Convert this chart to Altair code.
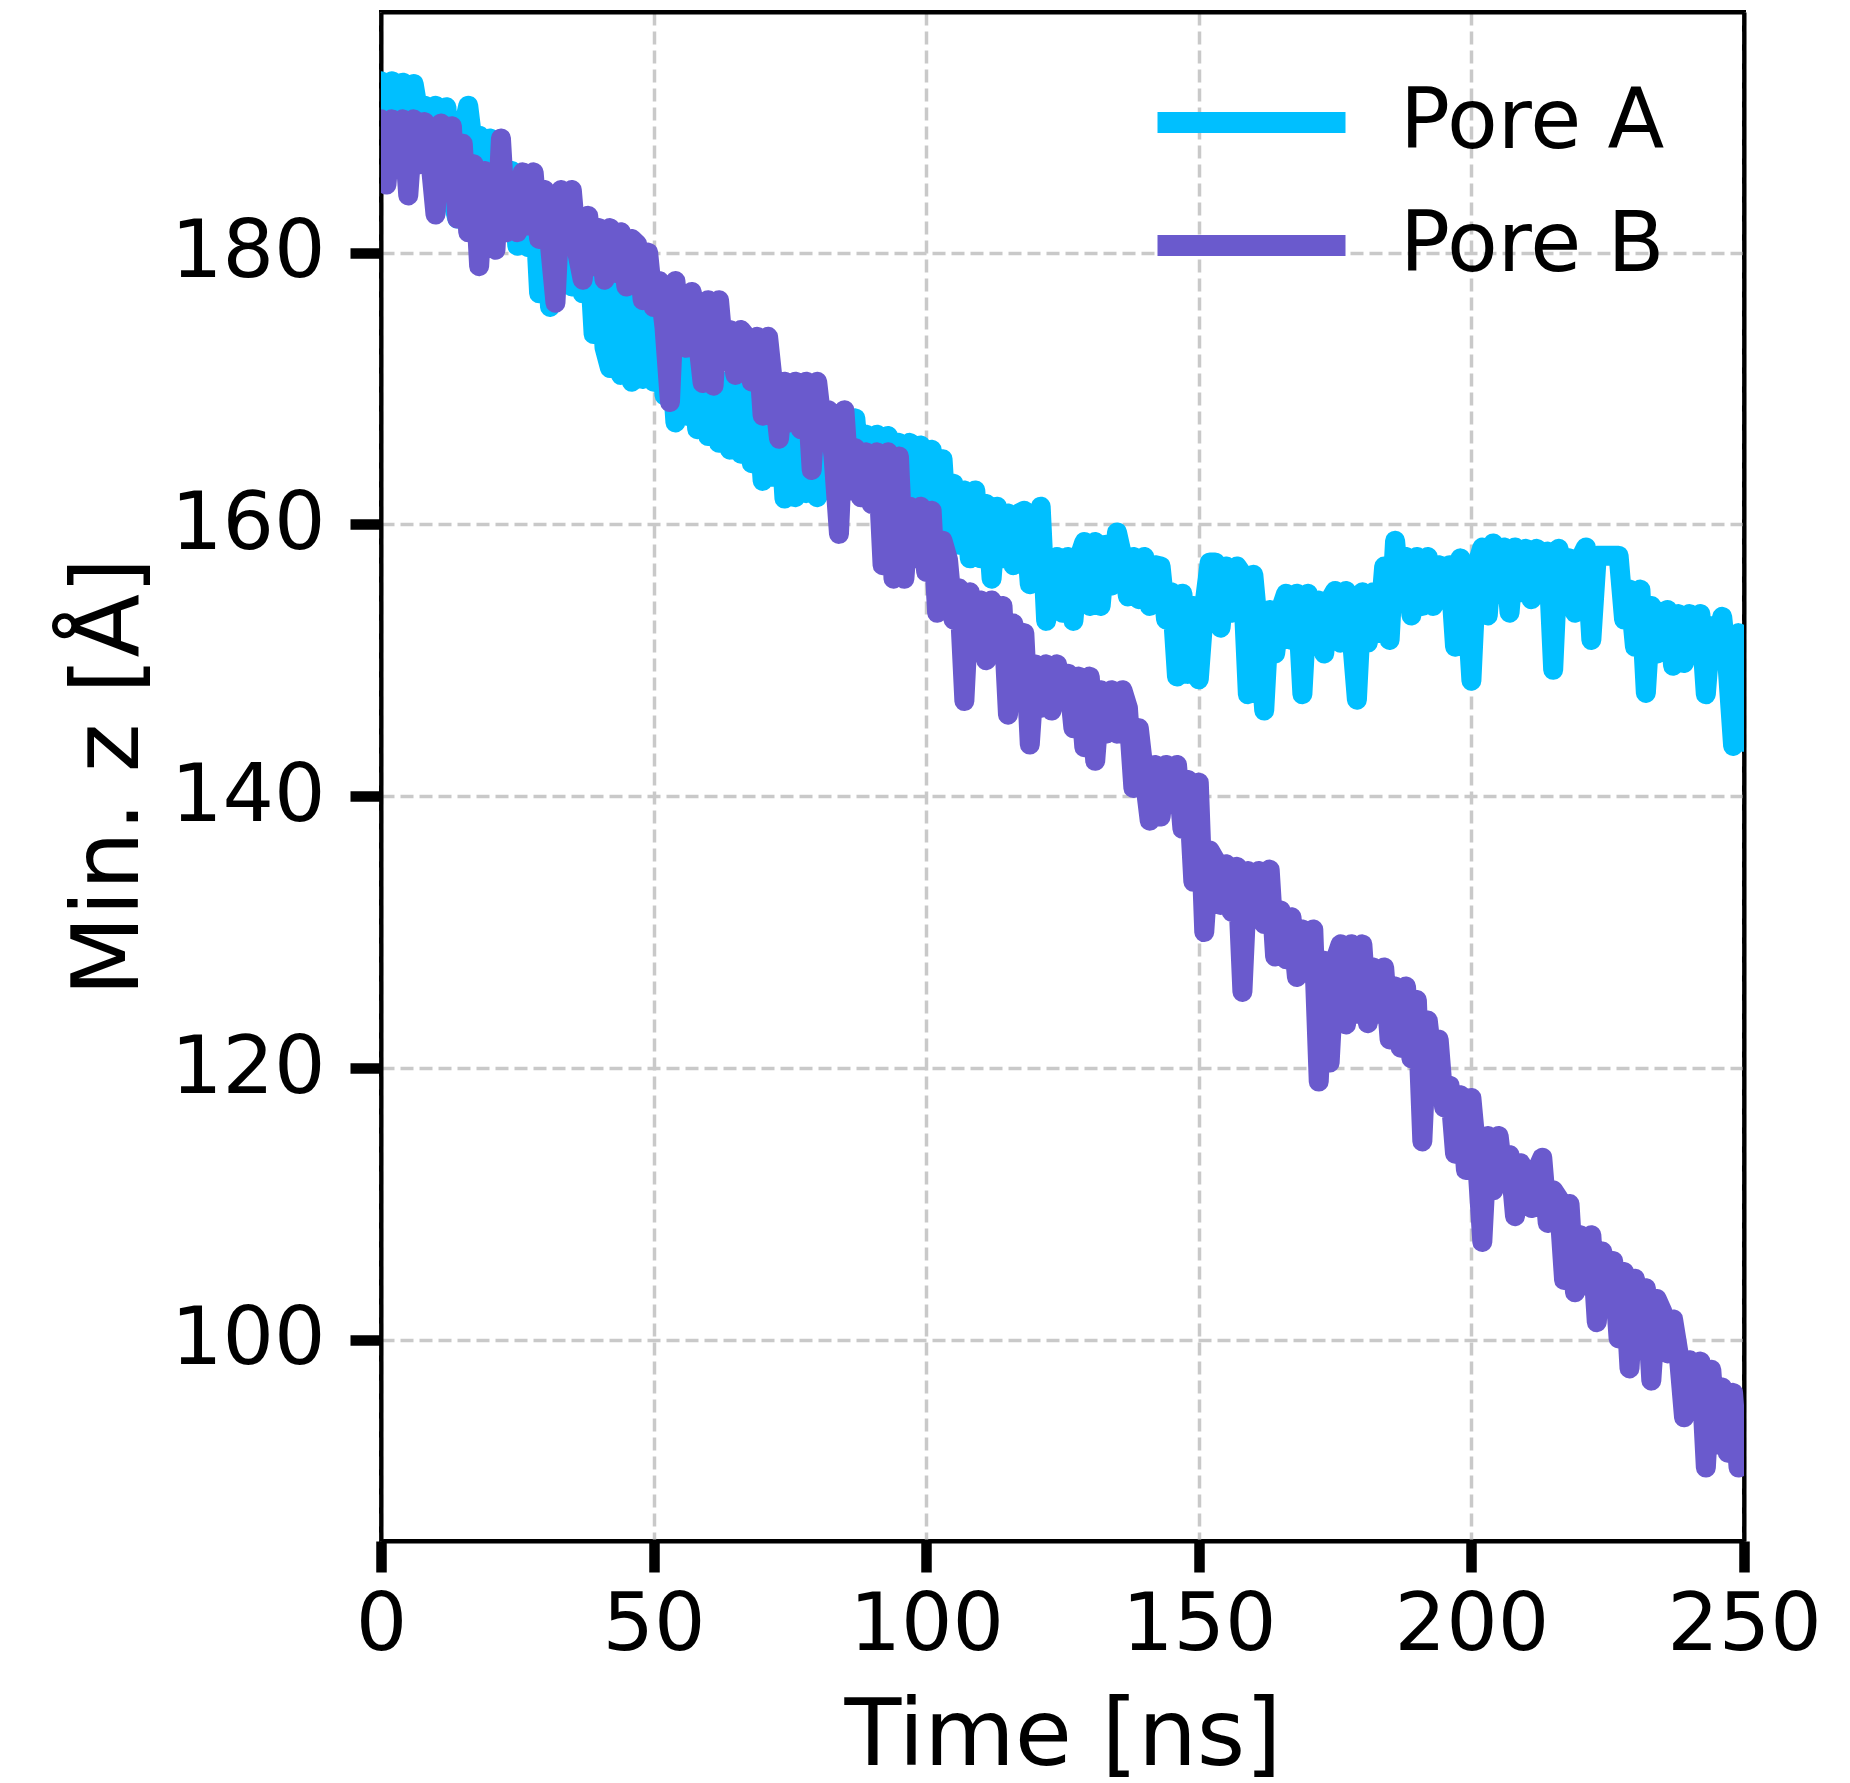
import altair as alt
import pandas as pd

TIME_NS = list(range(0, 251))

PORE_A = [
    192.6, 190.5, 192.6, 190.0, 192.5, 190.5, 192.4, 190.0, 190.8, 188.5,
    190.8, 188.0, 190.7, 184.0, 182.5, 189.0, 190.8, 187.5, 188.6, 184.5,
    188.4, 184.0, 186.5, 182.0, 186.0, 180.5, 185.5, 180.4, 184.8, 177.0,
    183.5, 176.0, 183.0, 178.5, 183.5, 177.5, 182.5, 177.0, 181.0, 174.0,
    179.5, 173.0, 171.5, 177.5, 171.0, 177.0, 170.5, 176.5, 170.7, 176.0,
    170.5, 174.5, 169.5, 173.5, 167.5, 172.5, 168.0, 172.0, 167.0, 171.5,
    166.5, 171.0, 166.0, 170.5, 165.5, 170.0, 165.2, 169.5, 164.5, 169.0,
    163.2, 168.5, 163.5, 168.5, 161.9, 168.0, 162.0, 168.0, 162.3, 167.5,
    162.0, 167.5, 162.5, 167.5, 163.0, 167.8, 163.5, 167.8, 163.0, 166.6,
    163.0, 166.6, 162.8, 166.5, 163.0, 166.0, 161.5, 166.0, 161.0, 165.8,
    160.5, 165.5, 159.0, 164.8, 158.5, 163.0, 158.5, 162.5, 157.5, 162.5,
    157.5, 161.5, 156.0, 161.3, 157.5, 160.8, 157.0, 160.8, 161.0, 155.6,
    159.0, 161.3, 152.9, 156.0, 157.6, 153.5, 157.6, 152.9, 157.5, 158.7,
    154.0, 158.7, 154.0, 158.5, 155.5, 159.4, 157.6, 154.7, 157.6, 154.5,
    157.6, 154.0, 157.0, 156.9, 153.0, 155.0, 148.8, 154.9, 149.0, 154.0,
    148.6, 154.0, 157.2, 157.2, 152.4, 156.9, 153.5, 156.9, 156.3, 147.5,
    156.3, 152.0, 146.3, 153.7, 150.5, 153.7, 154.9, 151.5, 154.9, 147.5,
    154.9, 152.0, 154.4, 150.5, 154.4, 155.1, 151.3, 155.1, 152.0, 147.1,
    155.0, 151.3, 155.0, 152.0, 156.9, 151.5, 158.8, 154.5, 157.6, 153.3,
    157.6, 154.0, 157.6, 154.0, 157.0, 154.5, 157.0, 151.0, 157.5, 155.0,
    148.5, 157.0, 158.3, 153.3, 158.6, 155.0, 158.3, 153.5, 158.3, 155.0,
    158.2, 154.5, 158.2, 155.0, 158.0, 149.3, 158.2, 154.5, 157.5, 153.5,
    157.5, 158.3, 151.5, 157.7, 157.7, 157.7, 157.7, 157.7, 153.0, 155.2,
    151.0, 155.2, 147.6, 154.0, 150.5, 153.5, 153.7, 149.6, 153.4, 149.8,
    153.4, 151.0, 153.4, 147.5, 152.5, 150.0, 153.2, 149.5, 143.7, 152.0,
    144.0,
]

PORE_B = [
    189.8, 185.0, 189.8, 186.5, 189.8, 184.2, 189.8, 186.5, 189.6, 187.0,
    182.8, 189.5, 185.5, 189.3, 182.5, 188.0, 181.5, 186.5, 179.0, 186.0,
    181.0, 180.2, 188.4, 181.5, 185.0, 181.5, 185.9, 182.0, 185.9, 181.0,
    184.6, 180.5, 176.3, 184.6, 181.0, 184.6, 180.0, 178.0, 182.7, 179.0,
    181.8, 178.0, 181.8, 178.5, 181.5, 177.5, 181.0, 180.6, 176.5, 180.0,
    176.0, 177.9, 174.5, 169.0, 177.9, 174.0, 173.0, 177.1, 174.0, 170.4,
    176.5, 170.2, 176.5, 172.0, 174.3, 171.0, 174.3, 173.8, 170.5, 173.8,
    168.0, 173.8, 170.0, 166.3, 170.5, 167.5, 170.5, 167.0, 170.5, 164.0,
    170.5, 167.0, 168.4, 165.0, 159.3, 168.4, 162.5, 165.6, 162.0, 165.3,
    161.5, 165.3, 157.0, 165.3, 156.0, 165.0, 156.0, 161.3, 157.5, 161.3,
    156.5, 161.0, 153.5, 158.8, 157.4, 153.0, 155.3, 147.0, 155.0, 151.0,
    154.4, 150.0, 154.4, 150.5, 154.0, 146.0, 152.7, 148.0, 152.0, 143.8,
    149.7, 146.5, 149.7, 146.3, 149.7, 147.0, 149.0, 145.0, 148.8, 143.6,
    148.8, 142.6, 147.8, 144.6, 147.8, 144.6, 147.8, 146.5, 140.6, 145.0,
    141.5, 138.2, 142.3, 138.5, 142.3, 139.5, 142.3, 137.6, 141.2, 133.7,
    141.0, 130.0, 136.0, 135.3, 132.0, 135.0, 131.5, 134.8, 125.6, 134.5,
    131.0, 134.5, 130.6, 134.6, 128.2, 131.6, 128.0, 131.1, 126.7, 130.2,
    127.0, 130.2, 119.0, 127.9, 120.4, 127.9, 129.1, 123.2, 129.1, 124.0,
    129.1, 123.3, 127.4, 124.0, 127.4, 122.1, 126.0, 121.5, 126.0, 120.7,
    125.0, 114.6, 123.5, 120.0, 122.1, 117.1, 118.7, 113.7, 118.0, 112.5,
    117.8, 113.5, 107.2, 115.0, 111.0, 115.0, 111.5, 113.6, 109.1, 113.0,
    112.2, 109.7, 112.5, 113.4, 108.6, 111.0, 110.4, 104.4, 110.0, 103.5,
    107.7, 104.0, 107.7, 101.3, 106.5, 103.5, 105.8, 100.1, 105.0, 97.9,
    104.5, 100.5, 103.8, 97.0, 103.0, 102.1, 99.0, 101.5, 99.0, 94.3,
    98.5, 95.0, 98.4, 90.6, 97.8, 92.3, 96.5, 91.7, 96.1, 90.6,
    93.0,
]

SERIES = ["Pore A", "Pore B"]
COLORS = ["#00BFFF", "#6A5ACD"]
X_TICKS = [0, 50, 100, 150, 200, 250]
Y_TICKS = [100, 120, 140, 160, 180]
X_DOMAIN = [0, 250]
Y_DOMAIN = [85.2, 197.7]

df = pd.DataFrame({
    "time": TIME_NS + TIME_NS,
    "minz": PORE_A + PORE_B,
    "pore": [SERIES[0]] * len(TIME_NS) + [SERIES[1]] * len(TIME_NS),
})

FONT = "DejaVu Sans"
x_scale = alt.Scale(domain=X_DOMAIN, nice=False, zero=False)
y_scale = alt.Scale(domain=Y_DOMAIN, nice=False, zero=False)

lines = alt.Chart(df).mark_line(
    strokeWidth=20, strokeCap="round", strokeJoin="round", clip=True
).encode(
    x=alt.X("time:Q", scale=x_scale,
            axis=alt.Axis(values=X_TICKS, title="Time [ns]", format="d",
                          labelFlush=False, labelPadding=13, titlePadding=26)),
    y=alt.Y("minz:Q", scale=y_scale,
            axis=alt.Axis(values=Y_TICKS, title="Min. z [Å]", format="d",
                          labelPadding=25, titlePadding=24)),
    color=alt.Color("pore:N", scale=alt.Scale(domain=SERIES, range=COLORS),
                    legend=alt.Legend(
                        title=None, orient="none", legendX=766, legendY=50,
                        symbolType="stroke", symbolSize=35344, symbolStrokeWidth=21,
                        labelFontSize=83, labelFont=FONT, labelColor="black",
                        labelOffset=44, labelLimit=2000, rowPadding=2, padding=0,
                        clipHeight=121,
                    )),
    order=alt.Order("time:Q"),
)

frame = alt.Chart(df).mark_line(opacity=0).encode(
    x=alt.X("time:Q", scale=x_scale,
            axis=alt.Axis(orient="top", labels=False, ticks=False, grid=False,
                          title=None, domain=True)),
    y=alt.Y("minz:Q", scale=y_scale,
            axis=alt.Axis(orient="right", labels=False, ticks=False, grid=False,
                          title=None, domain=True)),
)

chart = alt.layer(lines, frame).resolve_axis(
    x="independent", y="independent"
).properties(
    width=1363, height=1529,
    autosize=alt.AutoSizeParams(type="none"),
    padding={"left": 373, "top": 4, "right": 98, "bottom": 248},
).configure_view(
    stroke="black", strokeWidth=4
).configure_axis(
    labelFont=FONT, titleFont=FONT, labelFontSize=81, titleFontSize=93,
    labelColor="black", titleColor="black", titleFontWeight="normal",
    tickSize=31, tickWidth=10.5, tickColor="black",
    domainColor="black", domainWidth=4,
    grid=True, gridColor="#c9c9c9", gridDash=[13, 6], gridWidth=3.5,
)

chart.save("out.html", embed_options={"renderer": "svg", "actions": False})
